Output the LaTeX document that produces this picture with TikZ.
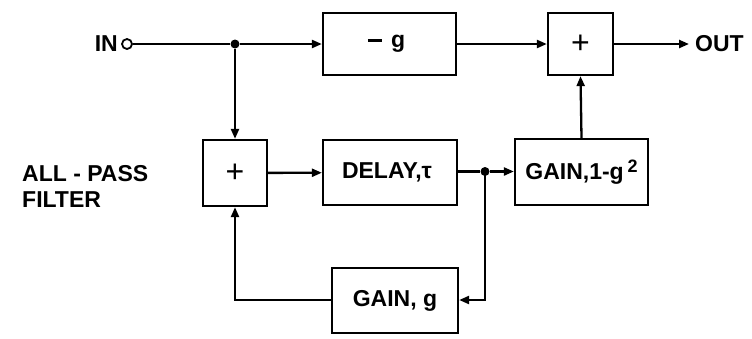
\documentclass[tikz,border=0pt]{standalone}
\usepackage{fontspec}
\setmainfont{Liberation Sans}
\usetikzlibrary{arrows.meta}
\tikzset{
  blk/.style={draw, line width=2.3pt, inner sep=0pt, font=\fontsize{23}{26}\selectfont\bfseries},
  lbl/.style={inner sep=0pt, font=\fontsize{23}{26}\selectfont\bfseries},
  plus/.style={font=\fontsize{32}{32}\selectfont},
  wire/.style={line width=2.3pt},
  arr/.style={wire, -{Triangle[length=10pt,width=8pt]}},
  dotj/.style={circle, fill=black, inner sep=0pt, minimum size=9pt},
}
\begin{document}
\begin{tikzpicture}[x=1pt,y=-1pt]
\useasboundingbox (0,0) rectangle (752,338);
% boxes
\node[blk, minimum width=133pt, minimum height=62pt] (neg) at (389.5,44) {\raisebox{0.25em}{\rule{14pt}{2.8pt}}\hspace{0.4em}g\hspace*{6pt}};
\node[blk, plus, minimum width=65pt, minimum height=62pt] (sumtop) at (580.5,44) {+};
\node[blk, plus, minimum width=64pt, minimum height=66pt] (sumleft) at (235,173) {+};
\node[blk, minimum width=134pt, minimum height=65pt] (delay) at (390,172.5) {DELAY,τ\hspace*{6pt}};
\node[blk, minimum width=133pt, minimum height=66pt] (gaintwo) at (581.5,172) {GAIN,1-g\,\raisebox{0.55ex}{\fontsize{18}{18}\selectfont 2}};
\node[blk, minimum width=126pt, minimum height=65pt] (gaing) at (395,300.5) {GAIN, g};
% labels
\node[lbl, anchor=east] (inlbl) at (118,44) {IN};
\node[draw, circle, line width=1.8pt, inner sep=0pt, minimum size=10pt] (in) at (127,44) {};
\node[lbl, anchor=west] (outlbl) at (695,44) {OUT};
\coordinate (out) at (689,44);
\node[lbl, anchor=north west, align=left] (title) at (22,165) {ALL - PASS\\FILTER};
% junctions
\node[dotj] (j1) at (235,44) {};
\node[dotj] (j2) at (485,171.5) {};
\coordinate (c1) at (485,300);
\coordinate (c2) at (235,300);
% wires
\draw[wire] (in) -- (j1);
\draw[arr] (j1) -- (neg);
\draw[arr] (j1) -- (sumleft);
\draw[arr] (sumleft) -- (delay);
\draw[wire] (delay.east |- j2) -- (j2);
\draw[arr] (j2) -- (gaintwo.west |- j2);
\draw[arr] (j2.center) -- (c1) -- (gaing.east |- c1);
\draw[arr] (gaing.west |- c2) -- (c2) -- (sumleft.south);
\draw[arr] (neg) -- (sumtop);
\draw[arr] (gaintwo.north) -- (sumtop.south);
\draw[arr] (sumtop) -- (out);
\end{tikzpicture}
\end{document}
